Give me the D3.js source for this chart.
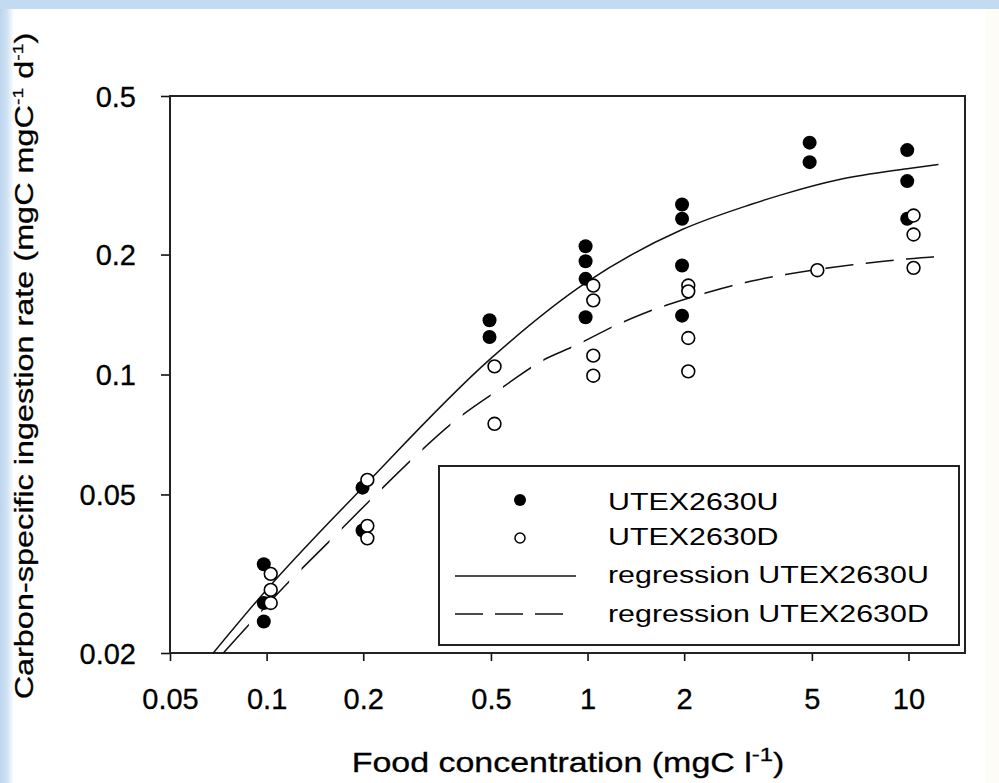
<!DOCTYPE html>
<html><head><meta charset="utf-8">
<script src="https://cdn.jsdelivr.net/npm/d3@7"></script>
<style>body{margin:0;background:#fff}svg{display:block}text{font-family:"Liberation Sans",Arial,sans-serif;fill:#000}</style>
</head><body><svg id="c" width="999" height="783"></svg>
<script>
// ---- data ----
const xTicks = [0.05, 0.1, 0.2, 0.5, 1, 2, 5, 10];
const yTicks = [0.02, 0.05, 0.1, 0.2, 0.5];
// UTEX2630U (filled)
const uX = [0.098,0.098,0.098, 0.199,0.199, 0.495,0.495, 0.986,0.986,0.986,0.986, 1.97,1.97,1.97,1.97, 4.92,4.92, 9.91,9.91,9.91];
const uY = [0.0334,0.0267,0.0240, 0.0520,0.0406, 0.1368,0.1242, 0.2098,0.1924,0.1738,0.1392, 0.2671,0.2459,0.1877,0.1405, 0.3818,0.3412, 0.3658,0.3058,0.2459];
// UTEX2630D (open)
const dX = [0.103,0.103,0.103, 0.206,0.206,0.206, 0.513,0.513, 1.042,1.042,1.042,1.042, 2.06,2.06,2.06,2.06, 5.2, 10.37,10.37,10.37];
const dY = [0.0316,0.0288,0.0267, 0.0544,0.0417,0.0388, 0.1048,0.0752, 0.1672,0.1535,0.1115,0.0993, 0.1672,0.1617,0.1235,0.1018, 0.1827, 0.2506,0.2246,0.1852];
// regression curves
const regUX = [0.0682, 0.098, 0.199, 0.495, 0.986, 1.972, 3.22, 3.99, 6.14, 9.9, 12.4];
const regUY = [0.0200, 0.0283, 0.0520, 0.1090, 0.1698, 0.2311, 0.2670, 0.2820, 0.3090, 0.3285, 0.3367];
const regDX = [0.0733, 0.1188, 0.1582, 0.2109, 0.402, 0.5487, 0.731, 0.906, 1.207, 1.572, 2.094, 3.22, 5.195, 8.38, 12.4];
const regDY = [0.0200, 0.0305, 0.0384, 0.0485, 0.0785, 0.0934, 0.1089, 0.1177, 0.1321, 0.1445, 0.1560, 0.1714, 0.1834, 0.1924, 0.1977];
const legendLabels = ["UTEX2630U", "UTEX2630D", "regression UTEX2630U", "regression UTEX2630D"];

// ---- drawing ----
const svg = d3.select("#c");
const defs = svg.append("defs");
const g1 = defs.append("linearGradient").attr("id","lb").attr("x1","0").attr("x2","1").attr("y1","0").attr("y2","0");
g1.append("stop").attr("offset","0").attr("stop-color","#bcd5ee");
g1.append("stop").attr("offset","0.5").attr("stop-color","#cfe1f3");
g1.append("stop").attr("offset","1").attr("stop-color","#ffffff");
svg.append("rect").attr("width",999).attr("height",783).attr("fill","#fff");
svg.append("rect").attr("x",0).attr("y",0).attr("width",14).attr("height",783).attr("fill","url(#lb)");
svg.append("rect").attr("x",0).attr("y",0).attr("width",999).attr("height",9).attr("fill","#c3dbf1");
svg.append("rect").attr("x",985).attr("y",9).attr("width",14).attr("height",774).attr("fill","#fdfcf6");

const L = 170, R = 965, T = 96, B = 653;
const x = d3.scaleLog().domain([0.05, 15]).range([L, R]);
const y = d3.scaleLog().domain([0.02, 0.5]).range([B, T]);

// axes
const fmt = d => String(d);
const xa = svg.append("g").attr("transform",`translate(0,${B})`)
  .call(d3.axisBottom(x).tickValues(xTicks).tickFormat(fmt).tickSize(8).tickSizeOuter(0));
xa.select(".domain").remove();
xa.selectAll("line").attr("stroke","#111").attr("stroke-width",1.6);
xa.selectAll("text").attr("y",56).attr("dy",0).attr("font-size",29).attr("fill","#000")
  .attr("stroke","#000").attr("stroke-width",0.3)
  .style("font-family",'"Liberation Sans",Arial,sans-serif');

const ya = svg.append("g").attr("transform",`translate(${L},0)`)
  .call(d3.axisLeft(y).tickValues(yTicks).tickFormat(fmt).tickSize(9).tickSizeOuter(0));
ya.select(".domain").remove();
ya.selectAll("line").attr("stroke","#111").attr("stroke-width",1.6);
ya.selectAll("text").attr("x",-34).attr("dy",10).attr("font-size",29).attr("fill","#000")
  .attr("stroke","#000").attr("stroke-width",0.3)
  .style("font-family",'"Liberation Sans",Arial,sans-serif');

// frame
svg.append("rect").attr("x",L).attr("y",T).attr("width",R-L).attr("height",B-T)
  .attr("fill","none").attr("stroke","#222").attr("stroke-width",2);

// regression lines
const line = d3.line().x(d=>x(d[0])).y(d=>y(d[1])).curve(d3.curveMonotoneX);
svg.append("path").datum(d3.zip(regUX, regUY)).attr("d", line)
  .attr("fill","none").attr("stroke","#111").attr("stroke-width",1.5);
// dashed: stripes in x
const clip = defs.append("clipPath").attr("id","dash");
d3.range(-12, 18).forEach(k => {
  clip.append("rect").attr("x", 503 + 40.3*k).attr("y", 0).attr("width", 28).attr("height", 783);
});
svg.append("path").datum(d3.zip(regDX, regDY)).attr("d", line).attr("clip-path","url(#dash)")
  .attr("fill","none").attr("stroke","#111").attr("stroke-width",1.5);

// points
svg.append("g").selectAll("circle").data(d3.zip(uX,uY)).join("circle")
  .attr("cx",d=>x(d[0])).attr("cy",d=>y(d[1])).attr("r",7).attr("fill","#000");
svg.append("g").selectAll("circle").data(d3.zip(dX,dY)).join("circle")
  .attr("cx",d=>x(d[0])).attr("cy",d=>y(d[1])).attr("r",6.4).attr("fill","#fff")
  .attr("stroke","#000").attr("stroke-width",1.6);

// legend
const lg = svg.append("g");
lg.append("rect").attr("x",439).attr("y",466).attr("width",520).attr("height",179)
  .attr("fill","#fff").attr("stroke","#222").attr("stroke-width",2);
lg.append("circle").attr("cx",520).attr("cy",500).attr("r",6).attr("fill","#000");
lg.append("circle").attr("cx",520).attr("cy",538).attr("r",5).attr("fill","#fff").attr("stroke","#000").attr("stroke-width",1.5);
lg.append("line").attr("x1",455).attr("x2",576).attr("y1",576).attr("y2",576).attr("stroke","#111").attr("stroke-width",1.5);
lg.append("line").attr("x1",455).attr("x2",566).attr("y1",614).attr("y2",614).attr("stroke","#111").attr("stroke-width",1.5).attr("stroke-dasharray","28,12");
const lgBase = [510, 545, 583, 622];
const lt = lg.selectAll("text.l").data(legendLabels).join("text").attr("class","l")
  .attr("font-size",23.5).attr("fill","#111").text(d=>d);
const wRef = lt.nodes()[3].getComputedTextLength();
const kL = 321 / wRef;
lt.attr("transform",(d,i)=>`translate(608,${lgBase[i]}) scale(${kL},1)`);

// axis titles
const xt = svg.append("text").attr("font-size",27).attr("text-anchor","middle")
  .attr("stroke","#000").attr("stroke-width",0.3);
xt.append("tspan").text("Food concentration (mgC l");
xt.append("tspan").attr("font-size",19).attr("dy",-11).text("-1");
xt.append("tspan").attr("dy",11).text(")");
const xw = xt.node().getComputedTextLength();
xt.attr("transform",`translate(568,772) scale(${433/xw},1)`);

const yt = svg.append("text").attr("font-size",25).attr("text-anchor","middle")
  .attr("stroke","#000").attr("stroke-width",0.3);
yt.append("tspan").text("Carbon-specific ingestion rate (mgC mgC");
yt.append("tspan").attr("font-size",15).attr("dy",-10).text("-1");
yt.append("tspan").attr("dy",10).text(" d");
yt.append("tspan").attr("font-size",15).attr("dy",-10).text("-1");
yt.append("tspan").attr("dy",10).text(")");
const yw = yt.node().getComputedTextLength();
yt.attr("transform",`translate(33,366) rotate(-90) scale(${667/yw},1)`);
</script>
</body></html>
